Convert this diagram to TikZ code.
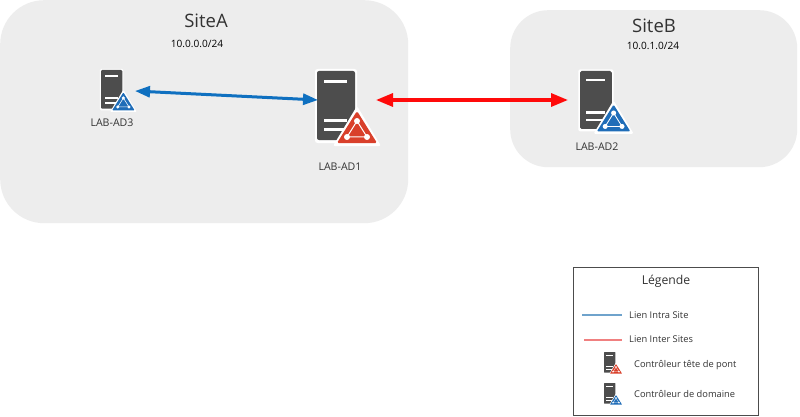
\documentclass[tikz,border=0pt]{standalone}
\usepackage{fontspec}
\setmainfont{Open Sans}
\usetikzlibrary{arrows.meta}
\definecolor{sitebg}{HTML}{EDEDED}
\definecolor{srv}{HTML}{4D4D4D}
\definecolor{adblue}{HTML}{1F6DB8}
\definecolor{adred}{HTML}{D9402B}
\definecolor{linkblue}{HTML}{0F70C0}
\definecolor{linkred}{HTML}{FF0A0A}
\definecolor{legblue}{HTML}{6FA3CC}
\definecolor{legred}{HTML}{F08080}
\definecolor{inkdark}{HTML}{333333}
\tikzset{
  site/.style={fill=sitebg,draw=none,inner sep=0pt,anchor=north west},
  label/.style={inner sep=0pt,text=inkdark,font=\fontsize{10.6}{12}\selectfont},
  legtext/.style={inner sep=0pt,anchor=west,text=inkdark,font=\fontsize{9.3}{11}\selectfont},
  bluelink/.style={draw=linkblue,line width=3pt,{Triangle[length=15pt,width=11pt]}-{Triangle[length=15pt,width=11pt]}},
  redlink/.style={draw=linkred,line width=3.2pt,{Triangle[length=17pt,width=13pt]}-{Triangle[length=17pt,width=13pt]}},
  pics/server/.style n args={2}{code={
    \fill[white,rounded corners=#2*2.5pt] (-2,-2) rectangle (40,72);
    \fill[srv,rounded corners=#2*2pt] (0,0) rectangle (38,69);
    \fill[white] (7,9) rectangle (30,12);
    \fill[white] (7,48) rectangle (30,51);
    \fill[white] (7,57) rectangle (30,60);
    \fill[white,rounded corners=#2*2pt] (40,35) -- (64,75) -- (16,75) -- cycle;
    \fill[#1,rounded corners=#2*1.5pt] (40,40) -- (60,72) -- (20,72) -- cycle;
    \draw[white,line width=#2*1pt] (40,50) -- (50,66) -- (30,66) -- cycle;
    \fill[white] (40,50) circle (3);
    \fill[white] (50,66) circle (3);
    \fill[white] (30,66) circle (3);
  }}
}
\begin{document}
\begin{tikzpicture}[x=1pt,y=-1pt]
\useasboundingbox (0,0) rectangle (800,417);
\fill[white] (0,0) rectangle (800,417);
% sites
\node[site,minimum width=408pt,minimum height=223pt,rounded corners=44pt] (siteA) at (0,0) {};
\node[site,minimum width=287pt,minimum height=157pt,rounded corners=38pt] (siteB) at (510,10) {};
\node[inner sep=0pt,font=\fontsize{18.5}{22}\selectfont,text=inkdark] (siteAname) at (206,21) {SiteA};
\node[inner sep=0pt,font=\fontsize{10.1}{12}\selectfont,text=black] (siteAnet) at (197,44) {10.0.0.0/24};
\node[inner sep=0pt,font=\fontsize{18.5}{22}\selectfont,text=inkdark] (siteBname) at (654,26) {SiteB};
\node[inner sep=0pt,font=\fontsize{10.1}{12}\selectfont,text=black] (siteBnet) at (653,46) {10.0.1.0/24};
% servers
\pic[scale=0.56] at (101,70) {server={adblue}{0.56}};
\pic[scale=1] at (317,71) {server={adred}{1}};
\pic[scale=0.84] at (580,71) {server={adblue}{0.84}};
\node[label] (ad3) at (112,123) {LAB-AD3};
\node[label] (ad1) at (340,167) {LAB-AD1};
\node[label] (ad2) at (597,147) {LAB-AD2};
% link ends
\coordinate (ad3port) at (135,91);
\coordinate (ad1west) at (318,100);
\coordinate (ad1east) at (376,100);
\coordinate (ad2west) at (568,100);
\draw[bluelink] (ad3port) -- (ad1west);
\draw[redlink] (ad1east) -- (ad2west);
% legend
\node[draw=black!70,line width=0.8pt,fill=white,inner sep=0pt,anchor=north west,minimum width=185pt,minimum height=148pt] (legend) at (573,267) {};
\node[inner sep=0pt,font=\fontsize{12.2}{14}\selectfont,text=inkdark] (legtitle) at (666,281) {Légende};
\coordinate (blueA) at (582,315);
\coordinate (blueB) at (622,315);
\coordinate (redA) at (584,340);
\coordinate (redB) at (622,340);
\draw[draw=legblue,line width=1.3pt] (blueA) -- (blueB);
\draw[draw=legred,line width=1.3pt] (redA) -- (redB);
\node[legtext] (l1) at (629,315) {Lien Intra Site};
\node[legtext] (l2) at (629,339) {Lien Inter Sites};
\node[legtext] (l3) at (634,365) {Contrôleur tête de pont};
\node[legtext] (l4) at (634,394) {Contrôleur de domaine};
\pic[scale=0.3] at (604,352) {server={adred}{0.3}};
\pic[scale=0.3] at (604,383) {server={adblue}{0.3}};
\end{tikzpicture}
\end{document}
